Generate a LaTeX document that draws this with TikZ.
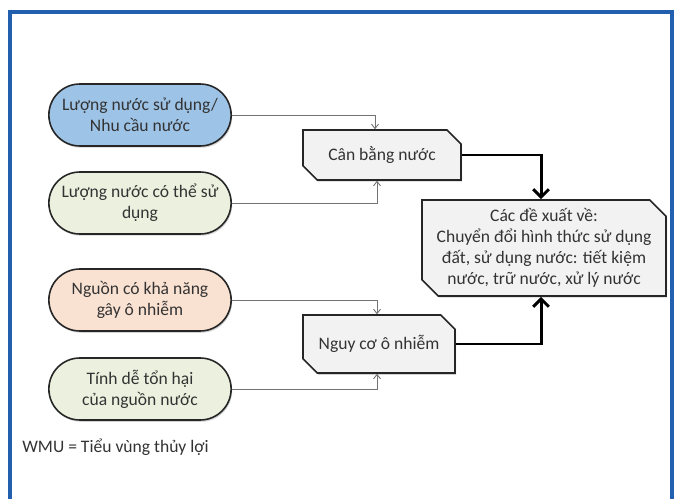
\documentclass[tikz,border=0pt]{standalone}
\usepackage{fontspec}
\setmainfont{Carlito}
\usetikzlibrary{shapes.misc,arrows.meta,shadows}

\definecolor{frameblue}{RGB}{35,95,175}
\definecolor{pillblue}{RGB}{157,195,230}
\definecolor{pillgreen}{RGB}{235,241,222}
\definecolor{pillpeach}{RGB}{250,226,210}
\definecolor{boxgray}{RGB}{242,242,242}

\begin{document}
\begin{tikzpicture}[x=0.02cm, y=-0.02cm,
  font=\fontsize{10pt}{12pt}\selectfont, text=black!80,
  pill/.style={rounded rectangle, draw=black!85, line width=0.9pt,
    minimum width=3.88cm, minimum height=1.24cm, align=center,
    drop shadow={opacity=0.35, shadow xshift=0.6pt, shadow yshift=-1pt}},
  snipbox/.style={chamfered rectangle, chamfered rectangle corners={north east,south west},
    chamfered rectangle xsep=6pt, draw=black!85, line width=0.9pt, fill=boxgray,
    align=center, inner sep=0pt,
    drop shadow={opacity=0.35, shadow xshift=0.6pt, shadow yshift=-1pt}},
  thinarrow/.style={draw=black!55, line width=0.5pt, -{Straight Barb[length=2.5pt,width=4pt]}},
  thickarrow/.style={draw=black, line width=1.7pt, -{Straight Barb[length=4.5pt,width=9pt]}}]
\useasboundingbox (0,0) rectangle (682,499);
\fill[white] (0,0) rectangle (682,499);
\draw[frameblue, line width=2pt] (10,12) rectangle (672,505);

% input ovals
\node[pill, fill=pillblue] (use) at (140,115) {Lượng nước sử dụng/\\Nhu cầu nước};
\node[pill, fill=pillgreen] (avail) at (140,203) {Lượng nước có thể sử\\dụng};
\node[pill, fill=pillpeach] (source) at (140,300) {Nguồn có khả năng\\gây ô nhiễm};
\node[pill, fill=pillgreen] (vuln) at (140,389) {Tính dễ tổn hại\\của nguồn nước};

% middle boxes
\node[snipbox, minimum width=3.16cm, minimum height=1.0cm] (balance) at (382,155) {Cân bằng nước};
\node[snipbox, minimum width=3.04cm, minimum height=1.16cm] (risk) at (379,344) {Nguy cơ ô nhiễm};

% result
\node[snipbox, minimum width=4.88cm, minimum height=1.92cm] (result) at (544,248)
  {Các đề xuất về:\\Chuyển đổi hình thức sử dụng\\đất, sử dụng nước: tiết kiệm\\nước, trữ nước, xử lý nước};

% connectors
\draw[thinarrow] (use.east) -| ([xshift=-0.14cm]balance.north);
\draw[thinarrow] (avail.east) -| ([xshift=-0.1cm]balance.south);
\draw[thinarrow] (source.east) -| ([xshift=-0.04cm]risk.north);
\draw[thinarrow] (vuln.east) -| ([xshift=-0.04cm]risk.south);
\draw[thickarrow] (balance.east) -| ([xshift=-0.06cm]result.north);
\draw[thickarrow] (risk.east) -| ([xshift=-0.06cm]result.south);

\node[anchor=west, inner sep=0pt] (note) at (22,447) {WMU = Tiểu vùng thủy lợi};
\end{tikzpicture}
\end{document}
